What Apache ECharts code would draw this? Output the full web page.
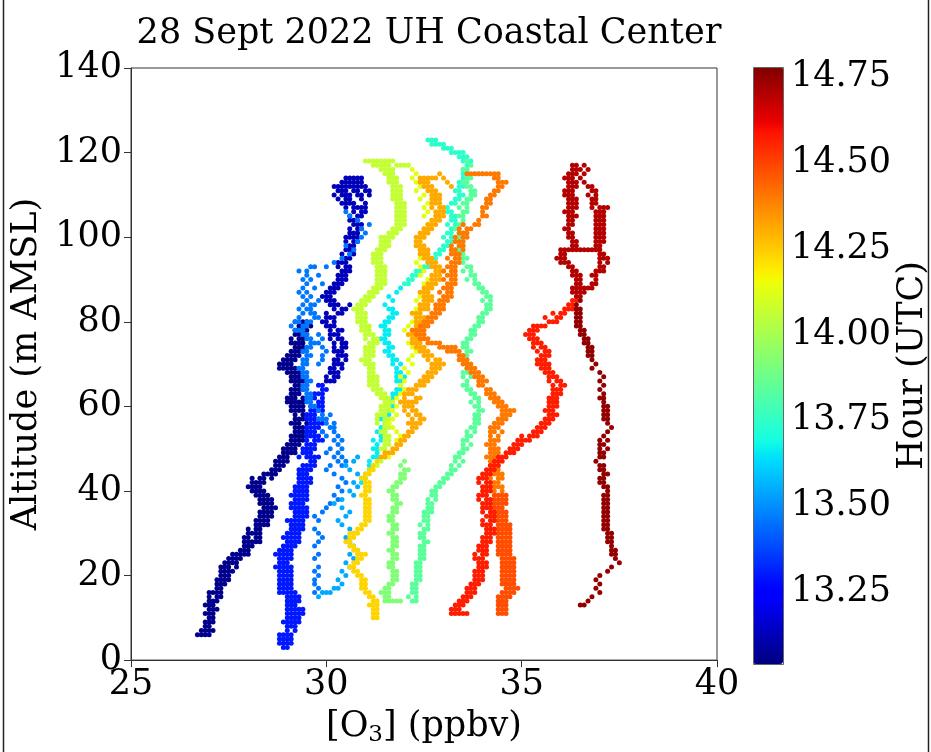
<!DOCTYPE html>
<html>
<head>
<meta charset="utf-8">
<script src="https://cdn.jsdelivr.net/npm/echarts@6/dist/echarts.min.js"></script>
<style>
  html, body { margin: 0; padding: 0; background: #fff; }
  #chart { width: 931px; height: 752px; }
</style>
</head>
<body>
<div id="chart"></div>
<script>
// Ozone profiles from the drone flights, 28 Sept 2022, UH Coastal Center.
// Each profile leg: [O3 (ppbv), altitude (m AMSL)] readings, grouped by hour (UTC).

const xTicks = [25, 30, 35, 40];
const yTicks = [0, 20, 40, 60, 80, 100, 120, 140];
const hourTicks = [13.25, 13.50, 13.75, 14.00, 14.25, 14.50, 14.75];
const hourRange = [13.04, 14.78];

const navyLow = [[26.8,6],[26.9,6],[27.0,7],[27.0,8],[27.1,9],[26.9,9],[27.0,10],[27.1,11],[27.0,12],[27.1,13],[26.9,13],[27.1,14],[27.2,15],[27.1,16],[27.3,17],[27.2,17],[27.3,18],[27.4,19],[27.3,20],[27.4,20],[27.5,21],[27.5,22],[27.6,23],[27.6,24],[27.5,24],[27.8,25],[27.9,25],[28.0,26],[28.1,27],[28.1,28],[28.2,29],[28.0,29],[28.1,30],[28.2,31],[28.3,32],[28.4,33],[28.3,33],[28.4,34],[28.5,35],[28.5,36],[28.4,37],[28.6,37],[28.4,38],[28.3,39],[28.2,40],[28.2,41],[28.1,41],[28.2,42],[28.3,43],[28.5,44],[28.6,44],[28.7,45],[28.8,46],[28.8,47],[28.9,48],[29.0,49],[29.0,50],[29.1,51],[29.2,51],[29.3,52],[29.2,53],[29.3,54],[29.4,55],[29.3,56],[29.4,57],[29.4,58],[29.3,59],[29.2,60],[29.1,61],[29.0,61],[29.2,62],[29.3,63],[29.4,64],[29.5,65],[29.4,66],[29.3,67],[29.2,68],[29.0,69],[28.9,70],[28.8,70],[29.0,71],[29.1,72],[29.2,73],[29.3,74],[29.2,75],[29.3,76],[29.4,77],[29.5,78],[29.6,79]];
const navyLowFill = [[27.0,6],[26.9,7],[27.1,7],[27.0,9],[27.1,10],[27.2,12],[27.0,11],[27.2,14],[27.2,16],[27.3,16],[27.4,18],[27.4,21],[27.6,21],[27.4,22],[27.7,23],[27.7,24],[27.7,25],[27.9,26],[28.0,27],[28.2,28],[28.3,29],[28.2,30],[28.3,31],[28.4,32],[28.5,33],[28.5,34],[28.6,35],[28.6,36],[28.5,37],[28.5,38],[28.4,39],[28.3,40],[28.3,41],[28.3,42],[28.4,43],[28.4,44],[28.6,45],[28.9,46],[28.9,47],[29.0,48],[29.1,49],[29.1,50],[29.0,51],[29.2,52],[29.3,53],[29.4,54],[29.2,55],[29.2,56],[29.3,57],[29.5,58],[29.2,59],[29.3,60],[29.3,61],[29.1,62],[29.2,63],[29.3,64],[29.3,65],[29.3,66],[29.2,67],[29.1,68],[29.1,69],[29.0,70],[29.1,71],[29.2,72],[29.3,73],[29.4,74],[29.3,75],[29.4,76],[29.3,77],[29.4,78],[29.3,79],[29.2,80]];
const navyLowWide = [[26.7,6],[26.8,7],[26.9,8],[27.0,13],[26.9,11],[27.1,12],[27.0,14],[27.0,15],[27.3,15],[27.0,16],[27.2,18],[27.2,19],[27.5,19],[27.3,19],[27.5,20],[27.3,21],[27.3,22],[27.7,22],[27.5,23],[27.4,23],[27.8,24],[27.6,25],[28.0,25],[27.8,26],[27.9,27],[28.0,28],[27.9,28],[28.3,28],[27.9,29],[28.0,30],[28.3,30],[28.0,31],[28.2,32],[28.5,32],[28.2,33],[28.3,34],[28.6,34],[28.3,35],[28.4,35],[28.4,36],[28.7,36],[28.3,37],[28.3,38],[28.6,38],[28.2,39],[28.5,39],[28.1,40],[28.4,40],[28.0,41],[28.1,42],[28.4,42],[28.1,43],[28.6,43],[28.7,44],[28.8,45],[28.7,46],[28.7,47],[29.0,47],[28.8,48],[28.9,49],[29.2,49],[28.9,50],[29.2,50],[29.3,51],[29.1,52],[29.4,52],[29.1,53],[29.4,53],[29.2,54],[29.5,54],[29.3,55],[29.5,55],[29.1,56],[29.5,56],[29.2,57],[29.2,58],[29.1,59],[29.4,59],[29.1,60],[29.4,60],[29.2,61],[29.4,61],[29.0,62],[29.4,62],[29.1,63],[29.1,64],[29.2,64],[29.2,65],[29.1,66],[29.2,66],[29.1,67],[29.4,67],[29.0,68],[29.3,68],[28.9,69],[29.2,69],[28.8,69],[29.1,70],[28.9,71],[29.2,71],[29.0,72],[29.3,72],[29.1,73],[29.4,73],[29.2,74],[29.1,75],[29.4,75],[29.1,76],[29.2,77],[29.5,77],[29.2,78],[29.3,78],[29.4,79],[29.5,80],[29.4,80]];

const navyHigh = [[30.1,66],[30.2,67],[30.3,68],[30.2,69],[30.4,70],[30.5,71],[30.4,72],[30.3,73],[30.4,74],[30.5,75],[30.3,76],[30.2,77],[30.4,78],[30.1,79],[30.0,80],[30.1,81],[30.3,82],[30.5,83],[30.6,84],[30.2,84],[30.0,85],[29.9,86],[30.0,87],[30.2,88],[30.3,89],[30.4,90],[30.5,91],[30.6,92],[30.5,93],[30.4,94],[30.6,95],[30.7,96],[30.6,97],[30.7,98],[30.8,99],[30.6,100],[30.7,101],[30.9,102],[30.8,103],[30.7,104],[30.9,105],[31.0,106],[30.8,107],[30.6,108],[30.4,108],[30.3,109],[30.5,110],[30.2,110],[30.4,111],[30.6,112],[30.7,112],[30.5,113],[30.6,113],[30.8,113],[30.9,112],[31.0,111]];
const navyHighFill = [[30.2,66],[30.3,67],[30.2,68],[30.4,69],[30.3,70],[30.3,71],[30.5,72],[30.4,73],[30.5,74],[30.4,75],[30.4,76],[30.3,77],[30.3,78],[30.2,79],[30.2,80],[30.2,81],[30.4,82],[30.4,83],[30.3,84],[30.1,85],[30.0,86],[30.1,87],[30.3,88],[30.4,89],[30.5,90],[30.4,91],[30.5,92],[30.6,93],[30.5,94],[30.5,95],[30.6,96],[30.7,97],[30.6,98],[30.7,99],[30.7,100],[30.8,100],[30.8,101],[30.8,102],[30.9,103],[30.8,104],[30.8,105],[30.9,106],[30.9,107],[30.7,107],[30.7,108],[30.5,109],[30.6,109],[30.4,110],[30.6,110],[30.3,111],[30.5,111],[30.7,111],[30.5,112],[30.8,112],[30.4,113],[30.7,113],[30.5,114],[30.6,114],[30.7,114],[30.8,114]];
const navyHighWide = [[30.0,66],[30.0,67],[30.1,68],[30.1,69],[30.2,70],[30.2,71],[30.3,72],[30.2,73],[30.2,74],[30.2,75],[30.1,76],[30.1,77],[30.1,78],[30.0,79],[29.9,80],[30.0,81],[30.0,82],[30.2,83],[30.1,84],[30.2,85],[30.1,86],[30.2,87],[30.1,88],[30.2,89],[30.3,90],[30.3,91],[30.4,92],[30.3,93],[30.3,94],[30.4,96],[30.5,97],[30.5,99],[30.5,100],[30.6,101],[30.6,102],[30.7,103],[30.6,104],[30.6,105],[30.7,106],[30.5,107],[30.5,108],[31.0,107],[31.0,108],[30.9,109],[30.8,110],[30.9,110],[30.8,111],[30.2,112],[30.3,112],[30.4,112],[30.9,113],[30.9,114],[31.0,112],[31.1,111],[31.1,110]];

const blueDown = [[29.9,65],[30.0,64],[29.8,63],[29.7,62],[29.8,61],[29.9,60],[29.8,59],[29.7,58],[29.6,57],[29.8,56],[29.7,55],[29.6,54],[29.8,53],[29.7,52],[29.5,51],[29.6,50],[29.4,49],[29.5,48],[29.6,47],[29.7,46],[29.5,45],[29.4,44],[29.3,43],[29.5,42],[29.4,41],[29.3,40],[29.2,39],[29.4,38],[29.3,37],[29.2,36],[29.4,35],[29.3,34],[29.1,33],[29.2,32],[29.3,31],[29.1,30],[29.0,29],[29.2,28],[29.1,27],[28.9,26],[28.8,25],[29.0,24],[28.9,23],[28.8,22],[29.0,21],[29.1,20],[28.9,19],[28.8,18],[29.0,17],[29.1,16],[29.2,15],[29.0,14],[29.1,13],[29.3,12],[29.2,11],[29.1,10],[29.0,9],[29.1,8],[29.0,7],[28.9,6],[28.9,5],[29.0,4],[28.9,3]];
const blueDownFill = [[29.0,3],[28.9,4],[29.1,5],[29.0,6],[29.1,6],[29.2,7],[29.1,9],[29.2,9],[29.2,10],[29.3,10],[29.3,11],[29.1,11],[29.2,12],[29.2,13],[29.0,13],[29.1,14],[29.3,14],[29.0,15],[28.9,16],[29.0,16],[28.9,17],[29.0,18],[29.1,18],[29.0,19],[28.9,20],[29.0,20],[28.9,21],[29.1,21],[28.9,22],[29.0,22],[28.8,23],[29.0,23],[28.9,24],[29.1,24],[28.9,25],[29.0,25],[29.0,26],[29.1,26],[29.0,27],[29.2,27],[29.1,28],[29.3,28],[29.1,29],[29.2,29],[29.2,30],[29.3,30],[29.2,31],[29.4,31],[29.3,32],[29.4,32],[29.2,33],[29.3,33],[29.4,34],[29.5,34],[29.3,35],[29.3,36],[29.4,36],[29.2,37],[29.4,37],[29.3,38],[29.3,39],[29.4,39],[29.4,40],[29.5,40],[29.3,41],[29.5,41],[29.4,42],[29.6,42],[29.5,43],[29.4,45],[29.6,45],[29.5,46],[29.6,46],[29.7,47],[29.7,48],[29.5,49],[29.6,49],[29.7,50],[29.7,51],[29.8,52],[29.6,53],[29.7,53],[29.5,54],[29.7,54],[29.6,55],[29.8,55],[29.7,56],[29.8,57],[29.6,58],[29.9,59],[29.8,60],[29.9,61],[29.6,62],[29.9,62],[29.7,63],[29.9,63],[29.9,64],[29.8,65]];
const blueDownWide = [[28.8,4],[29.1,4],[28.8,5],[29.0,5],[28.8,6],[29.0,8],[29.2,8],[28.9,9],[29.3,9],[29.0,10],[29.0,11],[29.4,11],[29.0,12],[29.1,12],[29.4,12],[29.2,14],[29.1,15],[29.3,15],[28.8,16],[29.2,16],[28.8,17],[29.1,17],[28.9,18],[28.8,19],[29.1,19],[28.8,20],[28.8,21],[29.1,22],[28.7,22],[28.9,23],[28.8,24],[28.7,25],[29.1,25],[28.8,26],[28.9,27],[29.0,28],[28.9,29],[29.3,29],[29.0,30],[29.1,31],[29.1,32],[29.0,33],[29.4,33],[29.2,34],[29.2,35],[29.5,35],[29.1,36],[29.5,36],[29.1,37],[29.2,38],[29.5,38],[29.1,39],[29.5,39],[29.2,40],[29.2,41],[29.3,42],[29.4,43],[29.6,43],[29.3,44],[29.5,44],[29.3,45],[29.4,46],[29.6,48],[29.8,48],[29.3,48],[29.4,50],[29.5,50],[29.6,51],[29.5,52],[29.9,52],[29.5,53],[29.9,54],[29.5,55],[29.6,56],[29.9,56],[29.5,57],[29.7,57],[29.5,58],[29.7,59],[29.6,59],[29.7,60],[29.6,60]];

const lightBlue = [[29.7,16],[29.8,17],[29.7,18],[29.7,19],[29.8,20],[29.7,21],[29.8,22],[29.7,24],[29.8,25],[29.7,27],[29.8,28],[29.9,29],[29.8,30],[29.7,31],[29.8,33],[29.7,34],[29.9,35],[30.0,36],[30.1,37],[30.3,38],[30.2,39],[30.4,40],[30.3,41],[30.5,42],[30.4,43],[30.2,44],[30.0,45],[30.1,46],[30.3,47],[30.2,48],[30.0,49],[30.1,50],[30.3,51],[30.2,52],[30.0,53],[29.9,54],[30.1,55],[30.0,56],[29.8,57],[29.9,58],[29.8,59],[29.7,60],[29.6,61],[29.5,62],[29.6,63],[29.4,64],[29.5,65],[29.6,66],[29.4,67],[29.5,68],[29.3,69],[29.4,70],[29.5,71],[29.6,72],[29.4,73],[29.5,74],[29.7,75],[29.6,76],[29.5,77],[29.3,78],[29.4,79],[29.6,80],[29.8,81],[29.7,82],[29.5,83],[29.6,84],[29.8,85],[29.4,86],[29.5,87],[29.7,88],[29.9,89],[29.6,90],[29.8,91],[29.5,92],[29.7,93],[30.0,93],[30.2,94],[30.4,95],[30.6,96],[30.7,97],[30.5,98],[30.8,99],[30.9,100],[31.0,101],[30.9,102],[31.1,103],[30.8,104],[30.6,105],[30.5,106]];
const lightBlueFill = [[29.6,60],[29.5,61],[29.6,62],[29.5,63],[29.5,64],[29.4,65],[29.5,66],[29.5,67],[29.4,68],[29.4,69],[29.5,70],[29.4,71],[29.5,72],[29.5,73],[29.6,74],[29.6,75],[29.5,76],[29.4,77],[29.4,78],[29.5,79],[29.5,80],[29.7,81],[29.6,82],[29.6,83],[29.7,84],[29.2,78],[29.1,79],[29.2,80],[29.3,80],[29.3,81],[29.4,82],[29.3,83],[29.4,84],[29.5,85],[29.6,86],[29.3,87],[29.4,88],[29.5,89],[29.4,90],[29.5,91],[29.6,93],[29.3,92],[29.9,71],[29.8,70],[29.9,72],[30.0,73],[29.9,74],[29.8,75],[29.9,76],[29.8,77],[30.4,46],[30.5,47],[30.4,48],[30.3,49],[30.4,50],[30.4,52],[30.3,53],[30.2,54],[30.2,55],[30.2,56],[30.0,57],[30.1,58],[29.9,57]];

const skyBlue = [[29.8,15],[29.9,16],[30.0,16],[30.1,16],[30.2,17],[30.3,17],[30.4,18],[30.3,19],[30.5,20],[30.4,21],[30.6,22],[30.5,23],[30.7,24],[30.6,25],[30.8,26],[30.7,27],[30.6,28],[30.5,29],[30.7,30],[30.6,31],[30.4,32],[30.3,33],[30.5,34],[30.6,35],[30.4,36],[30.2,37],[30.4,38],[30.7,39],[30.6,40],[30.8,41],[30.7,42],[30.9,43],[30.8,44],[30.6,45],[30.5,46],[30.7,47],[30.8,48]];

const cyanUp = [[30.9,42],[31.0,43],[31.0,44],[31.1,45],[31.2,46],[31.1,47],[31.2,48],[31.3,49],[31.2,50],[31.3,51],[31.2,52],[31.4,53],[31.3,54],[31.4,55],[31.5,56],[31.4,57],[31.5,58],[31.6,59],[31.7,60],[31.6,61],[31.5,62],[31.7,63],[31.8,64],[31.9,65],[31.8,66],[32.0,67],[31.9,68],[31.8,69],[31.9,70],[31.7,71],[31.6,72],[31.5,73],[31.7,74],[31.5,75],[31.4,76],[31.5,77],[31.6,78],[31.4,79],[31.5,80],[31.7,81],[31.8,82],[31.6,83],[31.5,84],[31.7,85],[31.6,86],[31.8,87],[31.9,88]];
const cyanUpFill = [[31.1,46],[31.3,48],[31.3,50],[31.4,52],[31.5,54],[31.5,55],[31.6,58],[31.6,60],[31.7,62],[31.8,63],[31.9,64],[31.9,66],[31.8,67],[31.8,68],[31.7,70],[31.8,71],[31.7,72],[31.6,73],[31.6,74],[31.6,75],[31.5,76],[31.6,77],[31.5,78],[31.5,79],[31.6,80],[31.6,81],[31.7,82],[31.7,83]];

const tealTop = [[32.0,89],[32.1,90],[32.2,91],[32.3,92],[32.5,93],[32.6,94],[32.7,95],[32.8,96],[32.9,97],[33.0,98],[33.1,99],[33.0,100],[33.1,101],[33.2,102],[33.1,103],[33.2,104],[33.3,105],[33.1,106],[33.0,107],[33.2,108],[33.3,109],[33.4,110],[33.3,111],[33.5,112],[33.4,113],[33.6,114],[33.5,115],[33.5,116],[33.6,117],[33.5,118],[33.4,119],[33.3,120],[33.2,120],[33.1,121],[33.0,121],[32.9,122],[32.8,122],[32.7,122],[32.6,123]];
const tealTopFill = [[32.1,89],[32.2,90],[32.3,91],[32.4,92],[32.6,93],[32.7,94],[32.8,95],[32.9,96],[33.0,97],[33.1,98],[33.2,99],[33.2,100],[33.2,101],[33.3,102],[33.3,103],[33.3,104],[33.2,105],[33.2,106],[33.1,107],[33.3,108],[33.4,109],[33.5,110],[33.4,111],[33.4,112],[33.5,113],[33.5,114],[33.6,115],[33.6,116],[33.7,118],[33.6,119],[33.5,119],[33.5,120],[33.4,120],[33.2,121],[33.0,122],[32.8,123],[32.7,123]];

const greenDown = [[33.6,118],[33.7,117],[33.6,116],[33.8,115],[33.9,115],[34.0,115],[33.7,114],[33.5,113],[33.6,112],[33.7,111],[33.8,110],[33.6,109],[33.5,108],[33.6,107],[33.5,106],[33.4,105],[33.5,104],[33.4,103],[33.3,102],[33.4,101],[33.5,100],[33.3,99],[33.4,98],[33.3,97],[33.4,96],[33.5,95],[33.4,94],[33.6,93],[33.5,92],[33.7,91],[33.6,90],[33.8,89],[33.9,88],[34.0,87],[34.1,86],[34.0,85],[34.1,84],[34.2,83],[34.1,82],[34.0,81],[33.9,80],[33.8,79],[33.7,78],[33.8,77],[33.6,76],[33.5,75],[33.6,74],[33.7,73],[33.6,72],[33.5,71],[33.6,70],[33.7,69],[33.6,68],[33.5,67],[33.6,66],[33.5,65],[33.6,64],[33.7,63],[33.8,62],[33.7,61],[33.8,60],[33.9,59],[33.8,58],[33.9,57],[33.8,56],[33.7,55],[33.8,54],[33.7,53],[33.6,52],[33.7,51],[33.6,50],[33.5,49],[33.4,48],[33.5,47],[33.4,46],[33.3,45],[33.2,44],[33.1,43],[33.0,42],[32.9,41],[32.8,40],[32.7,39],[32.8,38],[32.7,37],[32.6,36],[32.7,35],[32.6,34],[32.5,33],[32.6,32],[32.5,31],[32.4,30],[32.5,29],[32.6,28],[32.5,27],[32.4,26],[32.5,25],[32.4,24],[32.3,23],[32.4,22],[32.3,21],[32.4,20],[32.3,19],[32.2,18],[32.3,17],[32.2,16],[32.3,15],[32.2,14]];
const greenDownFill = [[33.5,116],[33.6,114],[33.6,113],[33.7,112],[33.8,111],[33.7,110],[33.7,109],[33.6,108],[33.4,107],[33.6,106],[33.5,105],[33.5,103],[33.4,102],[33.5,101],[33.4,100],[33.4,99],[33.5,98],[33.4,97],[33.5,96],[33.6,95],[33.5,94],[33.7,93],[33.7,92],[33.8,91],[33.8,90],[33.9,89],[34.0,88],[34.1,87],[34.2,86],[34.2,85],[34.2,84],[34.1,83],[34.0,82],[33.9,81],[34.0,80],[33.9,79],[33.8,78],[33.7,77],[33.7,76],[33.6,75],[33.5,74],[33.6,73],[33.5,72],[33.6,71],[33.6,69],[33.5,68],[33.7,67],[33.6,65],[33.7,64],[33.8,63],[33.9,62],[33.9,61],[33.9,60],[34.0,59],[33.9,58],[33.8,57],[33.9,56],[33.8,55],[33.6,54],[33.6,53],[33.5,52],[33.5,51],[33.5,50],[33.4,49],[33.3,48],[33.3,47],[33.2,46],[33.2,45],[33.1,44],[33.0,43],[32.9,42],[32.8,41],[32.7,40],[32.8,39],[32.6,38],[32.6,37],[32.7,36],[32.5,35],[32.6,35],[32.5,34],[32.6,33],[32.4,32],[32.6,31],[32.5,30],[32.4,29],[32.5,28],[32.4,27],[32.5,26],[32.4,25],[32.5,24],[32.4,23],[32.3,22],[32.4,21],[32.3,20],[32.4,19],[32.3,18],[32.2,17],[32.3,16],[32.1,15],[32.3,14]];

const lightGreen = [[31.5,14],[31.6,14],[31.7,14],[31.8,14],[31.9,14],[31.5,15],[31.4,16],[31.5,17],[31.6,18],[31.7,19],[31.8,20],[31.7,21],[31.6,22],[31.7,23],[31.8,24],[31.7,25],[31.6,26],[31.7,27],[31.8,28],[31.7,29],[31.6,30],[31.7,31],[31.8,32],[31.7,33],[31.6,34],[31.7,35],[31.8,36],[31.9,37],[31.8,38],[31.7,39],[31.6,40],[31.7,41],[31.8,42],[31.9,43],[32.0,44],[32.1,45],[31.9,46],[32.0,47]];
const lightGreenFill = [[31.6,15],[31.5,16],[31.6,16],[31.6,17],[31.7,18],[31.8,19],[31.7,20],[31.8,21],[31.7,22],[31.6,23],[31.7,24],[31.8,25],[31.7,26],[31.8,27],[31.7,28],[31.8,29],[31.7,30],[31.8,31],[31.7,32],[31.6,33],[31.7,34],[31.8,35],[31.7,36],[31.8,37],[31.7,38],[31.8,39],[31.7,40],[31.8,41],[31.9,42],[32.0,43],[31.9,44],[32.0,45]];

const yellowGreenUp = [[31.2,46],[31.3,47],[31.4,48],[31.5,49],[31.4,50],[31.5,51],[31.6,52],[31.5,53],[31.4,54],[31.5,55],[31.6,56],[31.5,57],[31.4,58],[31.5,59],[31.6,60],[31.7,61],[31.6,62],[31.4,63],[31.3,64],[31.2,65],[31.3,66],[31.2,67],[31.1,68],[31.2,69],[31.1,70],[31.0,71],[31.1,72],[31.2,73],[31.1,74],[31.2,75],[31.3,76],[31.2,77],[31.1,78],[31.0,79],[30.9,80],[31.0,81],[30.9,82],[30.8,83],[30.9,84],[31.0,85],[31.1,86],[31.2,87],[31.3,88],[31.4,89],[31.5,90],[31.4,91],[31.5,92],[31.4,93],[31.3,94],[31.4,95],[31.3,96],[31.4,97],[31.5,98],[31.6,99],[31.5,100],[31.7,101],[31.8,102],[31.9,103],[32.0,104],[31.9,105],[32.0,106],[31.9,107],[32.0,108],[31.9,109],[31.8,110],[31.9,111],[31.8,112],[31.7,113],[31.8,114],[31.6,115],[31.7,116],[31.5,117],[31.4,117],[31.3,117],[31.2,118],[31.1,118],[31.0,118],[31.4,118],[31.6,118],[31.8,117],[31.9,117],[32.0,117],[32.1,117]];
const yellowGreenFill = [[31.3,46],[31.4,47],[31.5,48],[31.5,50],[31.6,51],[31.5,52],[31.6,53],[31.5,54],[31.6,55],[31.5,56],[31.6,57],[31.5,58],[31.6,59],[31.5,60],[31.6,61],[31.5,62],[31.5,63],[31.4,64],[31.3,65],[31.2,66],[31.3,67],[31.2,68],[31.1,69],[31.2,70],[31.1,71],[31.2,72],[31.1,73],[31.2,74],[31.3,75],[31.2,76],[31.1,77],[31.0,78],[31.1,79],[31.0,80],[30.9,81],[31.0,82],[30.9,83],[31.0,84],[31.1,85],[31.2,86],[31.3,87],[31.4,88],[31.5,89],[31.4,90],[31.5,91],[31.4,92],[31.5,93],[31.4,94],[31.3,95],[31.4,96],[31.5,97],[31.6,98],[31.5,99],[31.6,100],[31.7,100],[31.8,101],[31.9,102],[32.0,103],[31.9,104],[32.0,105],[31.9,106],[32.0,107],[31.9,108],[31.8,109],[31.9,110],[31.8,111],[31.9,112],[31.8,113],[31.7,114],[31.7,115],[31.6,116],[31.6,117],[31.5,118],[31.2,117],[31.7,118]];
const yellowGreenWide = [[31.0,70],[30.9,71],[31.0,72],[31.0,73],[31.0,74],[31.1,75],[31.0,76],[31.0,77],[30.9,78],[30.9,79],[30.8,80],[30.8,81],[30.8,82],[30.7,83],[30.8,84],[30.9,85],[31.0,86],[31.1,87],[31.2,88],[31.3,89],[31.3,90],[31.3,91],[31.3,92],[31.3,93],[31.2,94],[31.2,95],[31.2,96],[31.3,97],[31.4,98],[31.4,99],[31.4,100],[31.6,101],[31.7,102],[31.8,103],[31.8,104],[31.8,105],[31.8,106],[31.8,107],[31.8,108],[31.7,109],[31.7,110],[31.7,111],[31.7,112],[31.6,113],[31.6,114],[31.5,115],[31.5,116],[31.4,116],[31.3,118],[31.5,55],[31.3,56],[31.3,57],[31.3,58],[31.4,59],[31.4,60],[31.5,61],[31.4,62],[31.3,63],[31.2,64],[31.1,65],[31.1,66],[31.1,67]];

const yellowDown = [[32.2,116],[32.3,115],[32.2,114],[32.3,113],[32.4,112],[32.3,111],[32.5,110],[32.4,109],[32.6,108],[32.5,107],[32.6,106],[32.5,105],[32.7,104],[32.6,103],[32.5,102],[32.6,101],[32.5,100],[32.4,99],[32.3,98],[32.4,97],[32.5,96],[32.4,95],[32.3,94],[32.4,93],[32.5,92],[32.4,91],[32.6,90],[32.5,89],[32.7,88],[32.6,87],[32.4,86],[32.3,85],[32.4,84],[32.3,83],[32.2,82],[32.3,81],[32.2,80],[32.1,79],[32.0,78],[32.1,77],[32.2,76],[32.1,75],[32.2,74],[32.3,73],[32.2,72],[32.1,71],[32.2,70],[32.0,69],[32.1,68],[31.9,67],[32.0,66],[31.9,65],[32.0,64],[31.9,63],[31.8,62],[31.9,61],[31.8,60],[31.7,59],[31.8,58],[31.7,57],[31.6,56],[31.7,55],[31.8,54],[31.9,53],[31.8,52],[31.9,51],[31.8,50],[31.7,49],[31.6,48]];

const goldUp = [[31.2,10],[31.3,10],[31.2,11],[31.3,11],[31.2,12],[31.1,13],[31.2,14],[31.3,14],[31.1,15],[31.0,16],[30.9,17],[31.0,18],[30.9,19],[30.8,20],[30.7,21],[30.6,22],[30.7,23],[30.8,24],[30.9,25],[30.7,26],[30.6,27],[30.5,28],[30.6,29],[30.7,30],[30.8,30],[30.9,31],[31.0,32],[31.1,33],[31.0,34],[31.1,35],[31.0,36],[31.1,37],[31.0,38],[30.9,39],[31.0,40],[31.1,41],[31.0,42],[30.9,43],[31.0,44],[31.1,45],[31.2,46],[31.3,47]];
const goldUpFill = [[31.3,12],[31.2,13],[31.3,13],[31.2,15],[31.1,16],[31.0,17],[30.9,18],[31.0,19],[30.9,20],[30.8,21],[30.7,22],[30.8,23],[30.9,24],[31.0,25],[30.8,25],[30.8,26],[30.7,27],[30.6,28],[30.7,29],[30.6,30],[30.8,31],[30.9,32],[31.0,33],[31.1,34],[31.0,35],[31.1,36],[31.0,37],[31.1,38],[31.0,39],[31.1,40],[31.0,41],[31.1,42],[31.0,43],[31.1,44],[31.2,45]];

const amberUp = [[31.4,48],[31.5,48],[31.6,49],[31.7,50],[31.8,51],[31.9,52],[32.0,53],[32.1,54],[32.2,55],[32.3,56],[32.4,57],[32.3,58],[32.2,59],[32.1,60],[32.0,61],[32.2,61],[32.3,62],[32.1,63],[32.2,64],[32.4,65],[32.5,66],[32.6,67],[32.7,68],[32.8,69],[32.9,70],[33.0,70],[32.9,71],[32.7,72],[32.6,73],[32.5,74],[32.4,75],[32.3,76],[32.2,77],[32.3,78],[32.4,79],[32.5,80],[32.4,81],[32.3,82],[32.5,83],[32.6,84],[32.7,85],[32.6,86],[32.5,87],[32.6,88],[32.7,89],[32.8,90],[32.9,91],[33.0,92],[32.9,93],[32.8,94],[32.7,95],[32.6,96],[32.5,97],[32.4,98],[32.3,99],[32.4,100],[32.5,101],[32.6,102],[32.7,103],[32.8,104],[32.9,105],[33.0,106],[32.9,107],[32.8,108],[32.9,109],[32.8,110],[32.7,111],[32.6,112],[32.5,113],[32.6,114],[32.7,114],[32.8,114],[32.9,115],[33.0,114],[33.1,113],[33.2,112]];
const amberUpFill = [[31.5,49],[31.7,49],[31.8,50],[31.9,51],[32.0,52],[32.1,53],[32.2,54],[32.3,55],[32.4,56],[32.5,57],[32.4,58],[32.3,59],[32.2,60],[32.1,61],[32.3,61],[32.4,62],[32.2,63],[32.3,64],[32.5,65],[32.6,66],[32.7,67],[32.8,68],[32.9,69],[32.8,70],[32.8,71],[32.6,72],[32.5,73],[32.4,74],[32.3,75],[32.4,76],[32.3,77],[32.4,78],[32.5,79],[32.4,80],[32.5,81],[32.4,82],[32.6,83],[32.5,84],[32.6,85],[32.7,86],[32.6,87],[32.7,88],[32.8,89],[32.9,90],[32.8,91],[32.9,92],[32.8,93],[32.7,94],[32.6,95],[32.5,96],[32.6,97],[32.5,98],[32.4,99],[32.5,100],[32.6,101],[32.7,102],[32.8,103],[32.9,104],[33.0,105],[32.9,106],[33.0,107],[32.9,108],[32.8,109],[32.9,110],[32.8,111],[32.7,112],[32.6,113],[32.5,114]];
const amberUpWide = [[32.2,56],[32.1,56],[32.2,57],[32.1,58],[32.0,59],[32.0,60],[31.9,61],[32.0,62],[32.0,63],[32.1,64],[32.3,65],[32.4,66],[32.5,67],[32.6,68],[32.7,69],[32.7,70],[32.6,71],[32.5,72],[32.4,73],[32.3,74],[32.2,75],[32.2,76],[32.1,77],[32.2,78],[32.3,79],[32.3,80],[32.3,81],[32.2,82],[32.4,83],[32.4,84],[32.5,85],[32.5,86],[32.4,87],[32.5,88],[32.6,89],[32.7,90],[32.7,91],[32.8,92],[32.7,93],[32.6,94],[32.5,95],[32.4,96],[32.4,97],[32.3,98],[32.3,100],[32.4,101],[32.5,102],[32.6,103],[32.7,104],[32.8,105],[32.8,106],[32.7,107],[32.7,108],[32.7,109],[32.7,110],[32.6,111],[32.5,112],[32.4,113],[32.4,114]];

const orangeDown = [[33.6,115],[33.8,115],[34.0,115],[34.2,115],[34.4,115],[34.3,114],[34.5,113],[34.6,113],[34.4,112],[34.3,111],[34.2,110],[34.1,109],[34.2,108],[34.1,107],[34.0,106],[34.1,105],[33.9,104],[33.8,103],[33.7,102],[33.6,102],[33.5,101],[33.6,100],[33.5,99],[33.4,98],[33.5,97],[33.4,96],[33.3,95],[33.4,94],[33.3,93],[33.2,92],[33.3,91],[33.2,90],[33.3,89],[33.2,88],[33.1,87],[33.2,86],[33.0,85],[32.9,84],[32.8,83],[32.7,82],[32.6,81],[32.5,80],[32.4,79],[32.3,78],[32.4,77],[32.5,76],[32.6,75],[32.8,75],[33.0,74],[33.2,74],[33.3,73],[33.4,73],[33.5,72],[33.6,71],[33.7,70],[33.8,69],[33.9,68],[34.0,67],[34.1,66],[34.0,65],[34.2,64],[34.3,63],[34.4,62],[34.5,61],[34.6,60],[34.7,59],[34.8,59],[34.7,58],[34.6,57],[34.5,56],[34.4,55],[34.3,54],[34.4,53],[34.3,52],[34.2,51],[34.3,50],[34.4,49],[34.3,48],[34.2,47],[34.3,46],[34.4,45],[34.5,44],[34.4,43],[34.3,42],[34.4,41],[34.5,40]];
const orangeDownFill = [[33.7,115],[33.9,115],[34.1,115],[34.3,115],[34.4,114],[34.4,113],[34.5,112],[34.4,111],[34.3,110],[34.2,109],[34.1,108],[34.0,107],[34.0,105],[33.9,103],[33.6,101],[33.5,100],[33.4,99],[33.5,98],[33.3,97],[33.3,96],[33.4,95],[33.3,94],[33.2,93],[33.3,92],[33.2,91],[33.3,90],[33.2,89],[33.1,88],[33.2,87],[33.1,86],[33.0,84],[32.9,83],[32.8,82],[32.7,81],[32.6,80],[32.5,79],[32.4,78],[32.5,77],[32.6,76],[32.7,75],[32.9,75],[33.1,74],[33.3,74],[33.4,72],[33.5,71],[33.6,70],[33.7,69],[33.8,68],[33.9,67],[34.0,66],[34.1,64],[34.2,63],[34.3,62],[34.4,61],[34.5,60],[34.6,59],[34.6,58],[34.5,57],[34.4,56],[34.3,55],[34.5,54],[34.4,52],[34.3,51],[34.4,50],[34.3,49],[34.2,48],[34.3,47],[34.4,46],[34.3,45],[34.4,44],[34.5,43],[34.4,42],[34.5,41]];
const orangeDownWide = [[33.5,103],[33.4,102],[33.4,101],[33.3,100],[33.3,99],[33.2,98],[33.2,97],[33.2,96],[33.1,95],[33.2,94],[33.1,93],[33.0,92],[33.1,91],[33.0,90],[33.1,89],[33.0,88],[32.9,87],[33.0,86],[32.9,85],[33.1,85],[32.8,84],[33.0,83],[32.9,82],[32.8,81],[32.7,80],[32.6,79],[32.5,78],[32.2,78],[32.3,77],[32.4,76],[32.9,74],[33.1,73],[33.2,73],[33.4,71],[33.5,70],[33.6,69],[33.7,68],[33.8,67],[33.9,66],[33.9,65],[34.1,63],[34.2,62],[34.3,61],[34.4,60],[34.5,59],[34.5,58],[34.4,57],[34.3,56],[34.2,55],[34.2,54],[34.2,53],[34.2,52],[34.1,51],[34.2,50],[34.2,49],[34.1,48],[34.2,46],[34.3,44],[34.2,43],[34.3,41],[34.3,40]];

const orangeRedDown = [[34.4,39],[34.5,38],[34.4,37],[34.3,36],[34.4,35],[34.5,34],[34.4,33],[34.5,32],[34.6,31],[34.5,30],[34.6,29],[34.5,28],[34.6,27],[34.5,26],[34.6,25],[34.7,24],[34.6,23],[34.7,22],[34.6,21],[34.7,20],[34.6,19],[34.7,18],[34.8,17],[34.7,16],[34.6,15],[34.5,14],[34.6,13],[34.5,12],[34.4,11],[34.5,11]];
const orangeRedFill = [[34.5,39],[34.4,38],[34.5,37],[34.4,36],[34.5,35],[34.4,34],[34.5,33],[34.6,32],[34.5,31],[34.6,30],[34.5,29],[34.6,28],[34.5,27],[34.6,26],[34.5,25],[34.6,24],[34.7,23],[34.6,22],[34.7,21],[34.6,20],[34.7,19],[34.6,18],[34.7,17],[34.6,16],[34.5,15],[34.6,14],[34.5,13],[34.4,12],[34.6,11]];
const orangeRedWide = [[34.3,39],[34.6,39],[34.3,38],[34.6,38],[34.3,37],[34.6,37],[34.2,36],[34.5,36],[34.3,35],[34.6,35],[34.3,34],[34.6,34],[34.3,33],[34.6,33],[34.4,32],[34.7,32],[34.4,31],[34.7,31],[34.4,30],[34.7,30],[34.4,29],[34.7,29],[34.4,28],[34.7,28],[34.4,27],[34.7,27],[34.4,26],[34.7,26],[34.4,25],[34.7,25],[34.5,24],[34.8,24],[34.5,23],[34.8,23],[34.5,22],[34.8,22],[34.5,21],[34.8,21],[34.5,20],[34.8,20],[34.5,19],[34.8,19],[34.5,18],[34.8,18],[34.6,17],[34.9,17],[34.5,16],[34.8,16],[34.4,15],[34.7,15],[34.4,14],[34.4,13],[34.6,12]];

const redUp = [[33.3,11],[33.4,11],[33.5,11],[33.6,11],[33.3,12],[33.4,13],[33.5,14],[33.7,15],[33.8,16],[33.7,17],[33.9,18],[34.0,19],[33.9,20],[34.0,21],[34.1,22],[34.0,23],[33.9,24],[34.0,25],[34.1,26],[34.0,27],[34.1,28],[34.2,29],[34.3,30],[34.2,31],[34.1,32],[34.2,33],[34.3,34],[34.2,35],[34.1,36],[34.2,37],[34.1,38],[34.0,39],[34.1,40],[34.2,41],[34.1,42],[34.0,43],[34.1,44],[34.2,45],[34.3,46],[34.4,47],[34.6,48],[34.7,49],[34.9,50],[35.0,51],[35.1,52],[35.2,52],[35.3,53],[35.4,54],[35.5,55],[35.6,56],[35.7,57],[35.8,58],[35.7,59],[35.8,60],[35.9,61],[35.8,62],[35.9,63],[36.0,64],[36.1,65],[36.0,66],[35.9,67],[35.8,68],[35.7,69],[35.6,70],[35.5,71],[35.6,72],[35.7,73],[35.5,74],[35.4,75],[35.3,76],[35.2,77],[35.3,78],[35.4,79],[35.6,79],[35.7,80],[35.9,81],[36.0,82],[36.2,83],[36.3,84],[36.4,85]];
const redUpFill = [[33.4,12],[33.5,13],[33.6,14],[33.6,15],[33.7,16],[33.8,17],[33.8,18],[33.9,19],[34.0,20],[33.9,21],[34.0,22],[34.1,23],[34.0,24],[34.1,25],[34.0,26],[34.1,27],[34.2,28],[34.1,29],[34.2,30],[34.3,31],[34.2,32],[34.3,33],[34.2,34],[34.3,35],[34.2,36],[34.1,37],[34.2,38],[34.1,39],[34.2,40],[34.1,41],[34.2,42],[34.1,43],[34.2,44],[34.3,45],[34.4,46],[34.5,47],[34.5,48],[34.8,49],[34.8,50],[34.9,51],[35.0,52],[35.4,53],[35.5,54],[35.6,55],[35.7,56],[35.8,57],[35.9,58],[35.8,59],[35.9,60],[35.8,61],[35.9,62],[36.0,63],[35.9,64],[36.0,65],[35.9,66],[35.8,67],[35.7,68],[35.6,69],[35.5,70],[35.7,70],[35.6,71],[35.7,72],[35.6,73],[35.6,74],[35.5,75],[35.4,76],[35.3,77],[35.4,78],[35.5,79],[35.8,80],[35.9,80],[36.0,81],[36.1,82],[36.3,83],[36.4,83]];
const redUpWide = [[33.2,11],[33.2,12],[33.3,13],[33.4,14],[33.5,15],[33.6,16],[33.6,17],[33.7,18],[33.8,19],[33.8,20],[33.8,21],[33.9,22],[33.9,23],[33.8,24],[33.8,25],[33.9,26],[33.9,27],[34.0,28],[34.0,29],[34.1,30],[34.1,31],[34.0,32],[34.0,33],[34.1,34],[34.0,35],[34.0,36],[34.0,37],[33.9,38],[33.9,39],[34.0,40],[34.0,41],[33.9,42],[33.9,43],[34.0,44],[34.1,45],[34.2,46],[34.3,47],[34.4,48],[34.6,49],[34.7,50],[34.8,51],[34.9,52],[35.0,53],[35.2,53],[35.3,54],[35.4,55],[35.5,56],[35.6,57],[35.7,58],[35.6,59],[35.7,60],[35.7,61],[35.7,62],[35.8,63],[35.8,64],[35.8,65],[35.7,66],[35.7,67],[35.6,68],[35.5,69],[35.4,70],[35.4,71],[35.5,72],[35.4,73],[35.3,74],[35.3,75],[35.2,76],[35.1,77],[35.2,78],[35.3,79],[35.6,81],[35.8,82],[36.1,83],[36.2,84],[36.3,85]];

const darkRedTop = [[36.4,86],[36.5,87],[36.4,88],[36.5,89],[36.4,90],[36.5,91],[36.3,92],[36.2,93],[36.0,94],[35.9,95],[36.0,96],[36.2,97],[36.4,97],[36.6,97],[36.8,97],[37.0,96],[37.1,95],[37.0,94],[37.1,93],[36.9,92],[36.8,91],[36.9,90],[36.8,89],[36.7,88],[36.6,87],[36.5,86],[36.3,98],[36.4,99],[36.2,100],[36.3,101],[36.1,102],[36.2,103],[36.3,104],[36.4,105],[36.2,106],[36.3,107],[36.4,108],[36.3,109],[36.2,110],[36.3,111],[36.4,112],[36.3,113],[36.2,114],[36.3,115],[36.4,116],[36.5,116],[36.6,115],[36.7,116],[36.5,114],[36.6,113],[36.7,112],[36.8,111],[36.7,110],[36.8,109],[36.9,108],[37.0,107],[37.1,107],[37.2,107],[36.9,106],[37.0,105],[36.9,104],[37.0,103],[36.9,102],[37.0,101],[36.9,100],[37.0,99],[36.9,98]];
const darkRedTopFill = [[36.5,88],[36.6,88],[36.5,90],[36.4,91],[36.4,92],[36.3,93],[36.1,94],[36.1,96],[36.3,97],[36.5,97],[36.7,97],[36.9,97],[37.0,95],[37.0,93],[36.9,91],[36.9,89],[36.8,88],[36.4,98],[36.3,99],[36.3,100],[36.2,101],[36.2,102],[36.3,103],[36.2,104],[36.3,105],[36.3,106],[36.4,107],[36.3,108],[36.4,109],[36.3,110],[36.2,111],[36.3,112],[36.4,113],[36.3,114],[36.4,115],[36.3,116],[36.8,112],[36.9,111],[36.9,110],[36.9,109],[36.8,108],[36.8,107],[37.0,106],[36.9,105],[37.0,104],[36.9,103],[37.0,102],[36.9,101],[37.0,100],[36.9,99],[37.0,98]];
const darkRedTopWide = [[36.2,105],[36.1,106],[36.2,107],[36.2,108],[36.2,109],[36.1,110],[36.1,111],[36.2,112],[36.2,113],[36.1,114],[36.2,115],[36.3,117],[36.4,117],[36.6,117],[37.1,106],[37.1,105],[37.1,104],[37.1,103],[37.1,102],[37.1,101],[37.1,100],[37.1,99],[37.0,97],[37.1,96],[37.2,95],[37.2,94],[37.1,92],[37.0,92],[36.0,95],[36.1,95],[36.0,97],[36.1,97],[36.2,94],[36.3,91],[36.4,89],[36.3,88],[36.3,87],[36.4,87]];

const darkRedDown = [[36.5,85],[36.4,84],[36.5,83],[36.4,82],[36.5,81],[36.4,80],[36.5,79],[36.6,78],[36.5,77],[36.7,76],[36.6,75],[36.7,74],[36.8,73],[36.7,72],[36.8,71],[36.9,70],[36.8,69],[37.0,68],[37.1,67],[37.0,66],[37.1,65],[37.0,64],[37.1,63],[37.0,62],[37.1,61],[37.2,60],[37.1,59],[37.2,58],[37.1,57],[37.2,56],[37.3,55],[37.2,54],[37.1,53],[37.2,52],[37.1,51],[37.0,50],[37.1,49],[37.0,48],[36.9,47],[37.0,46],[37.1,45],[37.2,44],[37.1,43],[37.0,42],[37.1,41],[37.2,40],[37.1,39],[37.2,38],[37.1,37],[37.2,36],[37.1,35],[37.2,34],[37.1,33],[37.2,32],[37.1,31],[37.2,30],[37.3,29],[37.2,28],[37.3,27],[37.4,26],[37.3,25],[37.4,24],[37.5,23],[37.3,22],[37.2,21],[37.0,20],[36.9,19],[37.0,18],[36.9,17],[37.0,16],[36.8,15],[36.7,14],[36.6,13],[36.5,13]];
const darkRedDownFill = [[36.4,83],[36.5,82],[36.4,81],[36.5,80],[36.4,79],[36.5,78],[36.6,77],[36.6,76],[36.7,75],[36.8,74],[36.7,73],[36.8,72],[37.1,62],[37.1,60],[37.2,59],[37.1,58],[37.2,57],[37.0,52],[37.0,51],[37.2,50],[37.0,49],[37.1,48],[37.1,46],[37.0,45],[37.1,44],[37.0,43],[37.1,42],[37.2,41],[37.2,39],[37.1,38],[37.2,37],[37.1,36],[37.2,35],[37.1,34],[37.2,33],[37.1,32],[37.2,31],[37.3,30],[37.2,29],[37.3,28],[37.3,26],[37.4,25]];

// Hour (UTC) of each profile leg, in flight order (later legs drawn on top)
const legs = [
  { hour: 13.06, pts: [...navyLow, ...navyLowFill, ...navyLowWide] },
  { hour: 13.13, pts: [...navyHigh, ...navyHighFill, ...navyHighWide] },
  { hour: 13.30, pts: [...blueDown, ...blueDownFill, ...blueDownWide] },
  { hour: 13.46, pts: [...lightBlue, ...lightBlueFill] },
  { hour: 13.55, pts: skyBlue },
  { hour: 13.66, pts: [...cyanUp, ...cyanUpFill] },
  { hour: 13.74, pts: [...tealTop, ...tealTopFill] },
  { hour: 13.84, pts: [...greenDown, ...greenDownFill] },
  { hour: 13.92, pts: [...lightGreen, ...lightGreenFill] },
  { hour: 14.06, pts: [...yellowGreenUp, ...yellowGreenFill, ...yellowGreenWide] },
  { hour: 14.13, pts: yellowDown },
  { hour: 14.23, pts: [...goldUp, ...goldUpFill] },
  { hour: 14.31, pts: [...amberUp, ...amberUpFill, ...amberUpWide] },
  { hour: 14.40, pts: [...orangeDown, ...orangeDownFill, ...orangeDownWide] },
  { hour: 14.48, pts: [...orangeRedDown, ...orangeRedFill, ...orangeRedWide] },
  { hour: 14.57, pts: [...redUp, ...redUpFill, ...redUpWide] },
  { hour: 14.70, pts: [...darkRedTop, ...darkRedTopFill, ...darkRedTopWide] },
  { hour: 14.75, pts: [...darkRedDown, ...darkRedDownFill] }
];

// matplotlib "jet" colormap segment data
const jetSeg = {
  r: [[0, 0], [0.35, 0], [0.66, 1], [0.89, 1], [1, 0.5]],
  g: [[0, 0], [0.125, 0], [0.375, 1], [0.64, 1], [0.91, 0], [1, 0]],
  b: [[0, 0.5], [0.11, 1], [0.34, 1], [0.65, 0], [1, 0]]
};
function segVal(seg, t) {
  for (let i = 1; i < seg.length; i++) {
    if (t <= seg[i][0]) {
      const a = seg[i - 1], b = seg[i];
      return a[1] + (b[1] - a[1]) * (t - a[0]) / (b[0] - a[0]);
    }
  }
  return seg[seg.length - 1][1];
}
function jet(t) {
  const c = ['r', 'g', 'b'].map(k => Math.round(255 * segVal(jetSeg[k], t)));
  return 'rgb(' + c.join(',') + ')';
}
const jetColors = [];
for (let i = 0; i <= 100; i++) jetColors.push(jet(i / 100));

const scatterData = [];
legs.forEach(leg => leg.pts.forEach(p => scatterData.push([p[0], p[1], leg.hour])));

const FONT = 'DejaVu Serif';
const FS = 35;

const plot = { left: 131, top: 68, width: 586, height: 595 };
const bar = { left: 753, top: 67, width: 30, height: 597 };

const chart = echarts.init(document.getElementById('chart'), null, { renderer: 'canvas' });
chart.setOption({
  animation: false,
  backgroundColor: '#ffffff',
  title: {
    text: '28 Sept 2022 UH Coastal Center',
    left: plot.left + plot.width / 2,
    textAlign: 'center',
    top: 11,
    textStyle: { fontFamily: FONT, fontSize: FS, fontWeight: 'normal', color: '#000' }
  },
  grid: [
    { left: plot.left, top: plot.top, width: plot.width, height: plot.height,
      show: true, borderColor: '#333', borderWidth: 1, backgroundColor: '#fff' },
    { left: bar.left, top: bar.top, width: bar.width, height: bar.height, show: false }
  ],
  xAxis: [
    {
      gridIndex: 0, type: 'value', min: xTicks[0], max: xTicks[xTicks.length - 1], interval: 5,
      axisLine: { show: true, lineStyle: { color: '#333', width: 1 } },
      axisTick: { show: true, length: 7, lineStyle: { color: '#333' } },
      splitLine: { show: false },
      axisLabel: { fontFamily: FONT, fontSize: FS, color: '#000', margin: 7 },
      name: '[O{sub|3}] (ppbv)',
      nameLocation: 'middle',
      nameGap: 46,
      nameTextStyle: {
        fontFamily: FONT, fontSize: FS, color: '#000', lineHeight: 40,
        rich: { sub: { fontFamily: FONT, fontSize: 23, lineHeight: 22, verticalAlign: 'bottom', color: '#000' } }
      }
    },
    { gridIndex: 1, type: 'value', min: 0, max: 1, show: false }
  ],
  yAxis: [
    {
      gridIndex: 0, type: 'value', min: yTicks[0], max: yTicks[yTicks.length - 1], interval: 20,
      axisLine: { show: true, lineStyle: { color: '#333', width: 1 } },
      axisTick: { show: true, length: 7, lineStyle: { color: '#333' } },
      splitLine: { show: false },
      axisLabel: { fontFamily: FONT, fontSize: FS, color: '#000', margin: 9 },
      name: 'Altitude (m AMSL)',
      nameLocation: 'middle',
      nameRotate: 90,
      nameGap: 77,
      nameTextStyle: { fontFamily: FONT, fontSize: FS, color: '#000' }
    },
    {
      gridIndex: 1, type: 'value', position: 'right', min: hourRange[0], max: hourRange[1],
      axisLine: { show: false },
      axisTick: { show: true, length: 6, lineStyle: { color: '#333' }, customValues: hourTicks },
      splitLine: { show: false },
      axisLabel: { fontFamily: FONT, fontSize: FS, color: '#000', margin: 10,
        customValues: hourTicks, formatter: v => v.toFixed(2) },
      name: 'Hour (UTC)',
      nameLocation: 'middle',
      nameRotate: 90,
      nameGap: 106,
      nameTextStyle: { fontFamily: FONT, fontSize: FS, color: '#000' }
    }
  ],
  visualMap: {
    type: 'continuous',
    min: hourRange[0], max: hourRange[1],
    dimension: 2,
    seriesIndex: 0,
    calculable: false,
    hoverLink: false,
    left: bar.left, top: bar.top,
    itemWidth: bar.width, itemHeight: bar.height,
    padding: 0,
    inRange: { color: jetColors }
  },
  graphic: [
    { type: 'rect', z: 100, silent: true,
      shape: { x: bar.left + 0.5, y: bar.top + 0.5, width: bar.width, height: bar.height },
      style: { fill: 'none', stroke: '#666', lineWidth: 1 } },
    { type: 'line', z: 100, silent: true, shape: { x1: 3.5, y1: 0, x2: 3.5, y2: 752 },
      style: { stroke: '#222', lineWidth: 1.5 } },
    { type: 'line', z: 100, silent: true, shape: { x1: 928.5, y1: 0, x2: 928.5, y2: 752 },
      style: { stroke: '#222', lineWidth: 1.5 } }
  ],
  series: [{
    type: 'scatter',
    xAxisIndex: 0, yAxisIndex: 0,
    symbol: 'circle',
    symbolSize: 5,
    itemStyle: { opacity: 1 },
    large: false,
    data: scatterData
  }]
});
</script>
</body>
</html>
